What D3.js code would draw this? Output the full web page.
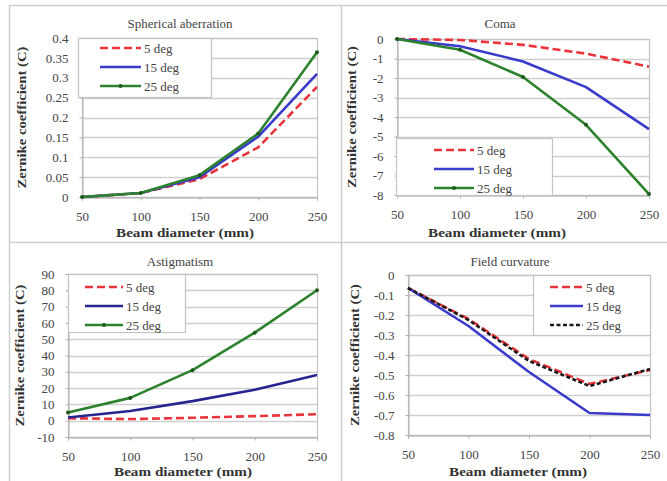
<!DOCTYPE html>
<html><head><meta charset="utf-8">
<script src="https://cdn.jsdelivr.net/npm/d3@7"></script>
<style>html,body{margin:0;padding:0;background:#fff}svg{display:block}</style>
</head><body>
<svg id="c" width="667" height="481"></svg>
<script>
const diameters = [50, 100, 150, 200, 250];
const xTicks = [50, 100, 150, 200, 250];
const legendNames = ["5 deg", "15 deg", "25 deg"];

const sphTitle = "Spherical aberration";
const sph5 = [0, 0.01, 0.045, 0.125, 0.277];
const sph15 = [0, 0.01, 0.05, 0.152, 0.31];
const sph25 = [0, 0.01, 0.055, 0.16, 0.364];
const sphTicks = [0, 0.05, 0.1, 0.15, 0.2, 0.25, 0.3, 0.35, 0.4];
const sphTickLabels = ["0", "0.05", "0.1", "0.15", "0.2", "0.25", "0.3", "0.35", "0.4"];

const comaTitle = "Coma";
const coma5 = [0, -0.05, -0.3, -0.75, -1.42];
const coma15 = [0, -0.37, -1.15, -2.47, -4.62];
const coma25 = [0, -0.55, -1.95, -4.4, -7.95];
const comaTicks = [0, -1, -2, -3, -4, -5, -6, -7, -8];
const comaTickLabels = ["0", "-1", "-2", "-3", "-4", "-5", "-6", "-7", "-8"];

const astTitle = "Astigmatism";
const ast5 = [1.5, 1, 1.8, 2.8, 4];
const ast15 = [2, 6, 12, 19, 28];
const ast25 = [5, 14, 31, 54, 80];
const astTicks = [-10, 0, 10, 20, 30, 40, 50, 60, 70, 80, 90];
const astTickLabels = ["-10", "0", "10", "20", "30", "40", "50", "60", "70", "80", "90"];

const fcTitle = "Field curvature";
const fc5 = [-0.065, -0.22, -0.42, -0.545, -0.475];
const fc15 = [-0.065, -0.255, -0.485, -0.69, -0.70];
const fc25 = [-0.065, -0.225, -0.43, -0.555, -0.47];
const fcTicks = [0, -0.1, -0.2, -0.3, -0.4, -0.5, -0.6, -0.7, -0.8];
const fcTickLabels = ["0", "-0.1", "-0.2", "-0.3", "-0.4", "-0.5", "-0.6", "-0.7", "-0.8"];

const xTitle = "Beam diameter (mm)";
const yTitle = "Zernike coefficient (C)";

const svg = d3.select("#c");
const FONT = "Liberation Serif";

// frame
const frame = svg.append("g").attr("stroke", "#cfcfcf").attr("stroke-width", 1.5);
frame.append("line").attr("x1", 9).attr("x2", 667).attr("y1", 5.5).attr("y2", 5.5);
frame.append("line").attr("x1", 9.5).attr("x2", 9.5).attr("y1", 5).attr("y2", 481);
frame.append("line").attr("x1", 341.5).attr("x2", 341.5).attr("y1", 5).attr("y2", 481);
frame.append("line").attr("x1", 9).attr("x2", 667).attr("y1", 242.5).attr("y2", 242.5);

const RED = "#e8343a", BLUE = "#3a3acb", GREEN = "#2d832d", BLACK = "#1a1a1a";

function panel(cfg) {
  const g = svg.append("g");
  const x = d3.scaleLinear().domain([50, 250]).range([cfg.left, cfg.right]);
  const y = d3.scaleLinear().domain(cfg.domain).range([cfg.bottom, cfg.top]);

  // gridlines
  g.append("g").selectAll("line").data(cfg.ticks).join("line")
    .attr("x1", cfg.left).attr("x2", cfg.right)
    .attr("y1", d => Math.round(y(d)) + 0.5).attr("y2", d => Math.round(y(d)) + 0.5)
    .attr("stroke", "#cfcfcf").attr("stroke-width", 1.3);
  // plot border
  g.append("rect").attr("x", cfg.left + 0.5).attr("y", Math.round(y(cfg.domain[1])) + 0.5)
    .attr("width", cfg.right - cfg.left).attr("height", Math.round(y(cfg.domain[0])) - Math.round(y(cfg.domain[1])))
    .attr("fill", "none").attr("stroke", "#c4c4c4").attr("stroke-width", 1.2);

  // y axis
  const ya = d3.axisLeft(y).tickValues(cfg.ticks).tickSize(3).tickPadding(11)
    .tickFormat((d, i) => cfg.tickLabels[i]);
  const yg = g.append("g").attr("transform", `translate(${cfg.left + 0.5},0)`).call(ya);
  yg.select(".domain").attr("stroke", "#b0b0b0");
  yg.selectAll(".tick line").attr("stroke", "#b0b0b0");
  yg.selectAll("text").attr("font-family", FONT).attr("font-size", 13).attr("fill", "#444");

  // x axis
  const xa = d3.axisBottom(x).tickValues(xTicks).tickSize(3).tickPadding(11).tickFormat(d3.format("d"));
  const xg = g.append("g").attr("transform", `translate(0,${Math.round(y(cfg.domain[0])) + 0.5})`).call(xa);
  xg.select(".domain").attr("stroke", "#b0b0b0");
  xg.selectAll(".tick line").attr("stroke", "#b0b0b0");
  xg.selectAll("text").attr("font-family", FONT).attr("font-size", 13).attr("fill", "#444");

  // titles
  g.append("text").attr("x", cfg.titleX).attr("y", cfg.titleY).attr("text-anchor", "middle")
    .attr("font-family", FONT).attr("font-size", 13).attr("fill", "#444").text(cfg.title);
  g.append("text").attr("x", cfg.xTitleX).attr("y", cfg.xTitleY).attr("text-anchor", "middle")
    .attr("font-family", FONT).attr("font-size", 12).attr("font-weight", "bold").attr("fill", "#333")
    .attr("textLength", 138).attr("lengthAdjust", "spacingAndGlyphs").text(xTitle);
  g.append("text").attr("transform", `translate(${cfg.yTitleX},${(cfg.top + cfg.bottom) / 2}) rotate(-90)`)
    .attr("text-anchor", "middle").attr("dy", "0.35em")
    .attr("font-family", FONT).attr("font-size", 12).attr("font-weight", "bold").attr("fill", "#333")
    .attr("textLength", 142).attr("lengthAdjust", "spacingAndGlyphs").text(yTitle);

  const line = d3.line().x((d, i) => x(diameters[i])).y(d => y(d));
  cfg.series.forEach(s => {
    g.append("path").datum(s.values).attr("d", line).attr("fill", "none")
      .attr("stroke", s.color).attr("stroke-width", 2.6).attr("stroke-dasharray", s.dash || null)
      .attr("stroke-linejoin", "round");
    if (s.marker) {
      g.append("g").selectAll("circle").data(s.values).join("circle")
        .attr("cx", (d, i) => x(diameters[i])).attr("cy", d => y(d)).attr("r", 2)
        .attr("fill", "#1f5a1f");
    }
  });

  // legend
  const L = cfg.legend;
  const lg = g.append("g");
  lg.append("rect").attr("x", L.x + 0.5).attr("y", L.y + 0.5).attr("width", L.w).attr("height", L.h)
    .attr("fill", "#fff").attr("stroke", "#c4c4c4").attr("stroke-width", 1.2);
  cfg.series.forEach((s, i) => {
    const yy = L.y + L.first + i * L.step;
    lg.append("line").attr("x1", L.lx1).attr("x2", L.lx2).attr("y1", yy).attr("y2", yy)
      .attr("stroke", s.color).attr("stroke-width", 2.6).attr("stroke-dasharray", s.dash || null);
    if (s.marker) lg.append("circle").attr("cx", (L.lx1 + L.lx2) / 2).attr("cy", yy).attr("r", 2).attr("fill", "#1f5a1f");
    lg.append("text").attr("x", L.lx2 + 3).attr("y", yy).attr("dy", "0.35em")
      .attr("font-family", FONT).attr("font-size", 13).attr("fill", "#444").text(legendNames[i]);
  });
}

panel({
  left: 82, right: 317, top: 38, bottom: 197, domain: [0, 0.4], ticks: sphTicks, tickLabels: sphTickLabels,
  title: sphTitle, titleX: 180, titleY: 28, xTitleX: 185, xTitleY: 237, yTitleX: 22,
  series: [
    { values: sph5, color: RED, dash: "8,4" },
    { values: sph15, color: BLUE },
    { values: sph25, color: GREEN, marker: true }
  ],
  legend: { x: 78, y: 38, w: 133, h: 59, first: 10, step: 19, lx1: 100, lx2: 141 }
});

panel({
  left: 397, right: 649, top: 39, bottom: 195, domain: [-8, 0], ticks: comaTicks, tickLabels: comaTickLabels,
  title: comaTitle, titleX: 500, titleY: 28, xTitleX: 497, xTitleY: 237, yTitleX: 352,
  series: [
    { values: coma5, color: RED, dash: "8,4" },
    { values: coma15, color: BLUE },
    { values: coma25, color: GREEN, marker: true }
  ],
  legend: { x: 396, y: 138, w: 156, h: 57, first: 12, step: 19, lx1: 434, lx2: 474 }
});

panel({
  left: 68, right: 317, top: 274, bottom: 437, domain: [-10, 90], ticks: astTicks, tickLabels: astTickLabels,
  title: astTitle, titleX: 180, titleY: 266, xTitleX: 183, xTitleY: 476, yTitleX: 20,
  series: [
    { values: ast5, color: RED, dash: "8,4" },
    { values: ast15, color: "#262690" },
    { values: ast25, color: GREEN, marker: true }
  ],
  legend: { x: 68, y: 274, w: 117, h: 58, first: 13, step: 19, lx1: 85, lx2: 123 }
});

panel({
  left: 408, right: 650, top: 275, bottom: 435, domain: [-0.8, 0], ticks: fcTicks, tickLabels: fcTickLabels,
  title: fcTitle, titleX: 510, titleY: 266, xTitleX: 518, xTitleY: 476, yTitleX: 355,
  series: [
    { values: fc5, color: RED, dash: "8,4" },
    { values: fc15, color: BLUE },
    { values: fc25, color: BLACK, dash: "4,2.5" }
  ],
  legend: { x: 533, y: 275, w: 117, h: 60, first: 12, step: 19, lx1: 550, lx2: 583 }
});
</script>
</body></html>
